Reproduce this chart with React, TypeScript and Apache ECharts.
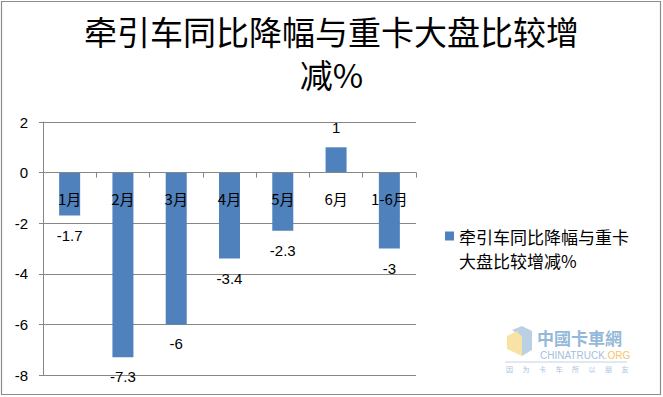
import React, { useEffect, useRef } from "react";
import * as echarts from "echarts";

const categories = ["1月", "2月", "3月", "4月", "5月", "6月", "1-6月"];
const values = [-1.7, -7.3, -6, -3.4, -2.3, 1, -3];
const seriesName = "牵引车同比降幅与重卡大盘比较增减%";
const titleText = "牵引车同比降幅与重卡大盘比较增\n减%";
const yMin = -8;
const yMax = 2;
const yInterval = 2;
const sloganChars = ["因", "为", "卡", "车", "所", "以", "朋", "友"];

const CJK = "'Noto Sans CJK SC', 'Noto Sans', sans-serif";
const NUM = "'Liberation Sans', 'Noto Sans', sans-serif";

const GRID_TOP = 122;
const GRID_BOTTOM = 22;
const CHART_H = 397;

export default function App() {
  const ref = useRef<HTMLDivElement>(null);
  useEffect(() => {
    if (!ref.current) return;
    const chart = echarts.init(ref.current, undefined, { renderer: "svg" });
    const gridHeight = CHART_H - GRID_TOP - GRID_BOTTOM;
    const zeroOffset = -(gridHeight * (0 - yMin)) / (yMax - yMin);
    const option: any = {
      animation: false,
      backgroundColor: "#ffffff",
      title: {
        text: titleText,
        left: "center",
        top: 4,
        textStyle: {
          fontFamily: CJK,
          fontSize: 33,
          fontWeight: "normal",
          color: "#000000",
          lineHeight: 43,
        },
      },
      grid: {
        left: 43,
        right: 247,
        top: GRID_TOP,
        bottom: GRID_BOTTOM,
        containLabel: false,
        outerBoundsMode: "none",
      },
      legend: {
        left: 440,
        top: 195,
        orient: "vertical",
        itemWidth: 9,
        itemHeight: 9,
        itemGap: 0,
        icon: "rect",
        data: [seriesName],
        formatter: (n: string) => " \n" + n.slice(0, 10) + "\n" + n.slice(10),
        textStyle: {
          fontFamily: CJK,
          fontSize: 17,
          color: "#000000",
          lineHeight: 24,
        },
      },
      xAxis: {
        type: "category",
        data: categories,
        z: 3,
        offset: zeroOffset,
        axisLine: { onZero: false, lineStyle: { color: "#868686", width: 1 } },
        axisTick: { show: true, length: 5, alignWithLabel: false, lineStyle: { color: "#868686" } },
        axisLabel: {
          interval: 0,
          margin: 18,
          fontFamily: CJK,
          fontSize: 15,
          color: "#000000",
        },
        splitLine: { show: false },
      },
      yAxis: {
        type: "value",
        min: yMin,
        max: yMax,
        interval: yInterval,
        axisLine: { show: true, lineStyle: { color: "#868686", width: 1 } },
        axisTick: { show: true, length: 4, inside: false, lineStyle: { color: "#868686" } },
        axisLabel: { margin: 15, fontFamily: NUM, fontSize: 15, color: "#000000" },
        splitLine: { show: true, lineStyle: { color: "#868686", width: 1 } },
      },
      series: [
        {
          name: seriesName,
          type: "bar",
          barWidth: 21,
          itemStyle: { color: "#4F81BD" },
          data: values.map((v) => ({
            value: v,
            label: { position: v < 0 ? "bottom" : "top" },
          })),
          label: {
            show: true,
            distance: 12,
            fontFamily: NUM,
            fontSize: 15,
            color: "#000000",
          },
        },
      ],
      graphic: [
        {
          type: "rect",
          shape: { x: 1.5, y: 1.5, width: 659, height: 393 },
          style: { fill: "none", stroke: "#8c8c8c", lineWidth: 1.2 },
          silent: true,
        },
        {
          type: "group",
          silent: true,
          children: [
            {
              type: "polygon",
              shape: { points: [[512, 330], [522, 326], [532, 331], [532, 350], [522, 356], [522, 337]] },
              style: { fill: "#a9c4dd", opacity: 0.8 },
            },
            {
              type: "polygon",
              shape: { points: [[507, 336], [517, 331], [522, 337], [522, 356], [507, 349]] },
              style: { fill: "#f8e09a", opacity: 0.9 },
            },
            {
              type: "text",
              style: {
                x: 537,
                y: 337,
                text: "中國卡車網",
                fontFamily: "'Noto Sans CJK TC', sans-serif",
                fontSize: 17,
                fontWeight: "bold",
                fill: "#94b8d8",
                verticalAlign: "middle",
              },
            },
            {
              type: "text",
              style: {
                x: 540,
                y: 355,
                text: "{a|CHINATRUCK}{b|.ORG}",
                verticalAlign: "middle",
                rich: {
                  a: { fontFamily: NUM, fontSize: 10, fill: "#a3c0dc" },
                  b: { fontFamily: NUM, fontSize: 10, fill: "#f5c46e" },
                },
              },
            },
            {
              type: "line",
              shape: { x1: 505, y1: 362, x2: 627, y2: 362 },
              style: { stroke: "#c2d4e6", lineWidth: 1 },
            },
            ...sloganChars.map((c, i) => ({
              type: "text",
              style: {
                x: 506 + i * 16.5,
                y: 369,
                text: c,
                fontFamily: CJK,
                fontSize: 7,
                fill: "#abc2d9",
                verticalAlign: "middle",
              },
            })),
          ],
        },
      ],
    };
    chart.setOption(option);
    return () => chart.dispose();
  }, []);
  return (
    <div
      ref={ref}
      style={{ position: "fixed", left: 0, top: 0, width: 663, height: 397 }}
    />
  );
}
